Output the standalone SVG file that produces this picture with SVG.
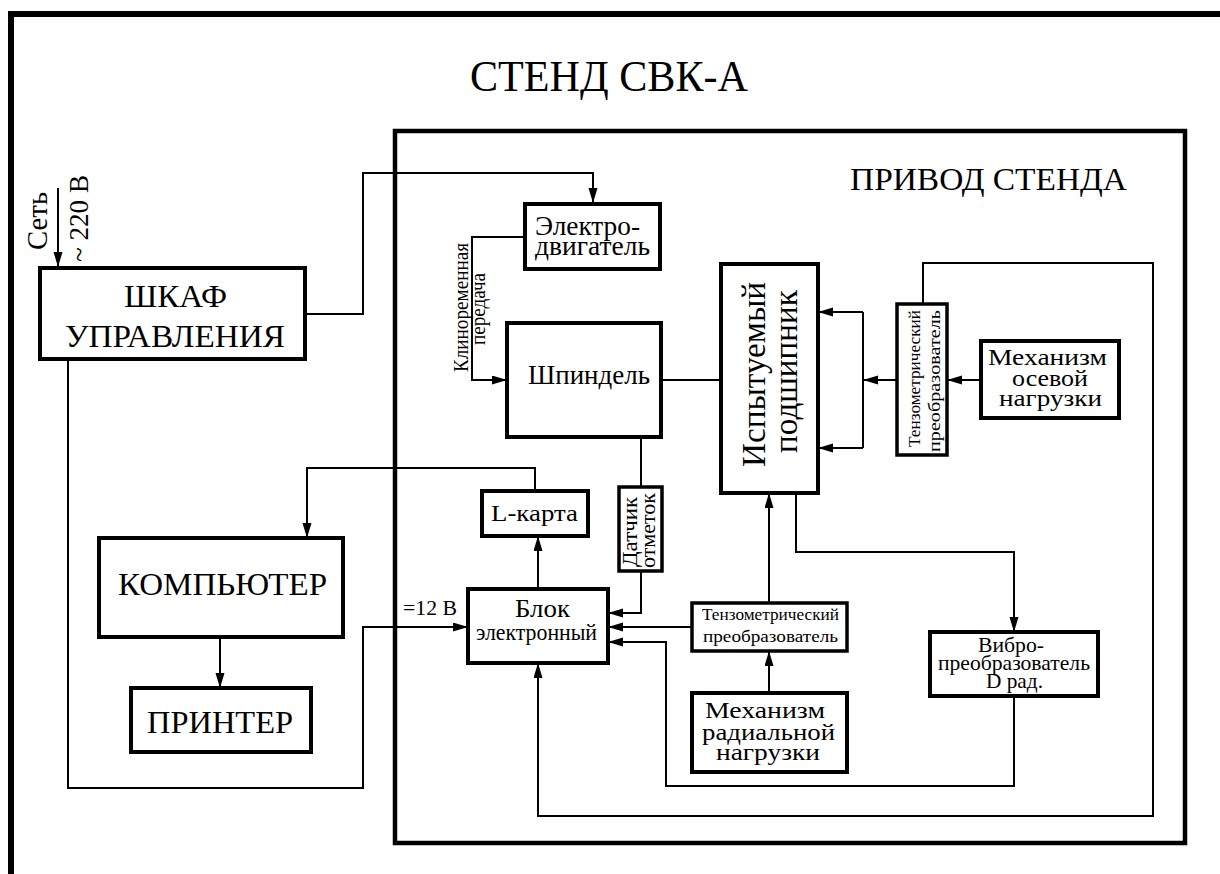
<svg xmlns="http://www.w3.org/2000/svg" width="1220" height="874" viewBox="0 0 1220 874" font-family="'Liberation Serif', 'Times New Roman', serif">
<defs>
<marker id="ah" markerUnits="userSpaceOnUse" markerWidth="16" markerHeight="10" refX="15" refY="4.5" orient="auto">
<path d="M0,0 L15,4.5 L0,9 z" fill="#000"/>
</marker>
<style>
.box{fill:#fff;stroke:#000;stroke-width:4}
.tb{fill:#fff;stroke:#000;stroke-width:3.5}
.ln{fill:none;stroke:#000;stroke-width:2}
.ar{fill:none;stroke:#000;stroke-width:2;marker-end:url(#ah)}
text{font-family:'Liberation Serif','Times New Roman',serif;fill:#000;text-anchor:middle}
</style>
</defs>
<rect width="1220" height="874" fill="#fff"/>
<g id="frame">
<path d="M11,880 V14 H1225" fill="none" stroke="#000" stroke-width="6"/>
<text x="609" y="91" font-size="44" textLength="278" lengthAdjust="spacingAndGlyphs">СТЕНД СВК-А</text>
</g>
<g id="privod">
<rect x="395" y="131" width="790" height="712" fill="none" stroke="#000" stroke-width="4.5"/>
<text x="988.5" y="190" font-size="32" textLength="277" lengthAdjust="spacingAndGlyphs">ПРИВОД СТЕНДА</text>
</g>
<g id="connectors">
<path class="ar" d="M58,188 V267"/>
<path class="ar" d="M305,314 H363 V173 H593 V203"/>
<path class="ar" d="M525,237 H472 V380 H507"/>
<path class="ln" d="M661,380 H721"/>
<path class="ar" d="M897,380 H863"/>
<path class="ln" d="M863,312 V448"/>
<path class="ar" d="M863,312 H818"/>
<path class="ar" d="M863,448 H818"/>
<path class="ar" d="M981,380 H947"/>
<path class="ar" d="M923,304 V263 H1153 V816 H538 V663"/>
<path class="ln" d="M641,437 V487"/>
<path class="ar" d="M641,571 V613 H608"/>
<path class="ar" d="M538,589 V536"/>
<path class="ar" d="M535,491 V468 H307 V538"/>
<path class="ar" d="M220,637 V688"/>
<path class="ar" d="M68,360 V788 H363 V627 H468"/>
<path class="ar" d="M692,627 H608"/>
<path class="ar" d="M1014,696 V786 H666 V642 H608"/>
<path class="ar" d="M769,603 V493"/>
<path class="ar" d="M769,693 V651"/>
<path class="ar" d="M796,493 V552 H1014 V632"/>
</g>
<g id="set">
<text font-size="30" textLength="58" lengthAdjust="spacingAndGlyphs" transform="translate(47,221) rotate(-90)">Сеть</text>
<text font-size="28" textLength="87" lengthAdjust="spacingAndGlyphs" transform="translate(88,218.5) rotate(-90)">~ 220 В</text>
</g>
<g id="shkaf">
<rect class="box" x="40" y="268" width="265" height="91" stroke-width="5"/>
<text x="175.5" y="307" font-size="32" textLength="103" lengthAdjust="spacingAndGlyphs">ШКАФ</text>
<text x="175" y="347" font-size="32" textLength="220" lengthAdjust="spacingAndGlyphs">УПРАВЛЕНИЯ</text>
</g>
<g id="elektro">
<rect class="box" x="525" y="204" width="135" height="65"/>
<text x="587.5" y="235" font-size="27" textLength="105" lengthAdjust="spacingAndGlyphs">Электро-</text>
<text x="592.5" y="255" font-size="27" textLength="115" lengthAdjust="spacingAndGlyphs">двигатель</text>
</g>
<g id="klin">
<text font-size="20" textLength="129" lengthAdjust="spacingAndGlyphs" transform="translate(468,307.5) rotate(-90)">Клиноременная</text>
<text font-size="20" textLength="72" lengthAdjust="spacingAndGlyphs" transform="translate(485,309) rotate(-90)">передача</text>
</g>
<g id="shpindel">
<rect class="box" x="507" y="323" width="154" height="114"/>
<text x="589" y="384" font-size="27" textLength="122" lengthAdjust="spacingAndGlyphs">Шпиндель</text>
</g>
<g id="podshipnik">
<rect class="box" x="721" y="264" width="97" height="229"/>
<text font-size="34" textLength="185" lengthAdjust="spacingAndGlyphs" transform="translate(765,374.5) rotate(-90)">Испытуемый</text>
<text font-size="34" textLength="163" lengthAdjust="spacingAndGlyphs" transform="translate(797,371.5) rotate(-90)">подшипник</text>
</g>
<g id="tenzo-os">
<rect class="tb" x="897" y="304" width="50" height="151"/>
<text font-size="17" textLength="137" lengthAdjust="spacingAndGlyphs" transform="translate(920,378.5) rotate(-90)">Тензометрический</text>
<text font-size="17" textLength="142" lengthAdjust="spacingAndGlyphs" transform="translate(940,381) rotate(-90)">преобразователь</text>
</g>
<g id="meh-os">
<rect class="box" x="981" y="341" width="138" height="77"/>
<text x="1047.5" y="365" font-size="24" textLength="119" lengthAdjust="spacingAndGlyphs">Механизм</text>
<text x="1050" y="386" font-size="24" textLength="76" lengthAdjust="spacingAndGlyphs">осевой</text>
<text x="1050.5" y="406" font-size="24" textLength="103" lengthAdjust="spacingAndGlyphs">нагрузки</text>
</g>
<g id="datchik">
<rect class="tb" x="619" y="487" width="43" height="84"/>
<text font-size="21" textLength="70" lengthAdjust="spacingAndGlyphs" transform="translate(637,532) rotate(-90)">Датчик</text>
<text font-size="21" textLength="75" lengthAdjust="spacingAndGlyphs" transform="translate(655,530.5) rotate(-90)">отметок</text>
</g>
<g id="lkarta">
<rect class="box" x="482" y="491" width="106" height="45"/>
<text x="534.5" y="521" font-size="24" textLength="87" lengthAdjust="spacingAndGlyphs">L-карта</text>
</g>
<g id="blok">
<rect class="box" x="468" y="589" width="140" height="74"/>
<text x="542.5" y="617" font-size="26" textLength="55" lengthAdjust="spacingAndGlyphs">Блок</text>
<text x="536.5" y="640" font-size="24" textLength="121" lengthAdjust="spacingAndGlyphs">электронный</text>
<text x="430" y="615" font-size="20" textLength="54" lengthAdjust="spacingAndGlyphs">=12 В</text>
</g>
<g id="tenzo-rad">
<rect class="tb" x="692" y="603" width="155" height="48"/>
<text x="770.5" y="620" font-size="17" textLength="137" lengthAdjust="spacingAndGlyphs">Тензометрический</text>
<text x="770.5" y="642" font-size="17" textLength="135" lengthAdjust="spacingAndGlyphs">преобразователь</text>
</g>
<g id="meh-rad">
<rect class="box" x="692" y="693" width="155" height="79"/>
<text x="765" y="718" font-size="24" textLength="120" lengthAdjust="spacingAndGlyphs">Механизм</text>
<text x="768.5" y="740" font-size="24" textLength="133" lengthAdjust="spacingAndGlyphs">радиальной</text>
<text x="768" y="760" font-size="24" textLength="104" lengthAdjust="spacingAndGlyphs">нагрузки</text>
</g>
<g id="vibro">
<rect class="box" x="930" y="632" width="168" height="64"/>
<text x="1011" y="652" font-size="21" textLength="66" lengthAdjust="spacingAndGlyphs">Вибро-</text>
<text x="1014" y="670" font-size="21" textLength="152" lengthAdjust="spacingAndGlyphs">преобразователь</text>
<text x="1014.5" y="688" font-size="21" textLength="57" lengthAdjust="spacingAndGlyphs">D рад.</text>
</g>
<g id="komp">
<rect class="box" x="99" y="538" width="244" height="99"/>
<text x="222.5" y="595" font-size="31" textLength="209" lengthAdjust="spacingAndGlyphs">КОМПЬЮТЕР</text>
</g>
<g id="printer">
<rect class="box" x="131" y="688" width="180" height="64"/>
<text x="220" y="733" font-size="31" textLength="146" lengthAdjust="spacingAndGlyphs">ПРИНТЕР</text>
</g>
</svg>
